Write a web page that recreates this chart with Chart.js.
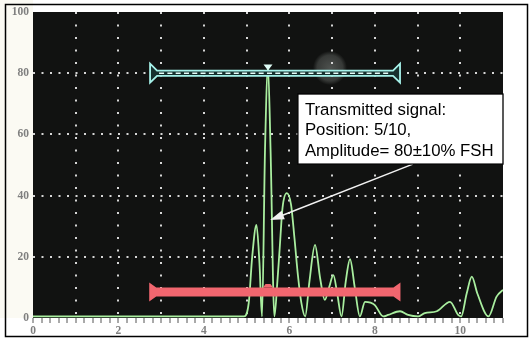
<!DOCTYPE html>
<html>
<head>
<meta charset="utf-8">
<script src="https://cdn.jsdelivr.net/npm/chart.js@4.4.0/dist/chart.umd.min.js"></script>
<style>
  html, body { margin: 0; padding: 0; background: #fff; }
  #wrap { width: 531px; height: 340px; }
</style>
</head>
<body>
<div id="wrap"><canvas id="scope" width="531" height="340"></canvas></div>
<script>
// A-scan trace (x in divisions, y in % FSH)
const signalX = [0, 4.94, 5.05, 5.13, 5.23, 5.3, 5.36, 5.43, 5.5, 5.56, 5.65, 5.72, 5.77, 5.84, 5.94, 6.04, 6.12, 6.2, 6.28, 6.37,
  6.47, 6.6, 6.72, 6.83, 6.93, 7.03, 7.12, 7.22, 7.32, 7.42, 7.53, 7.65, 7.77, 7.9, 8.0, 8.2, 8.31, 8.59, 8.78, 9.01,
  9.17, 9.45, 9.76, 9.95, 10.02, 10.15, 10.27, 10.4, 10.66, 10.85, 11];
const signalY = [0.5, 0.5, 5, 20, 30.4, 18, 0.5, 55, 82, 55, 0.5, 12, 22, 36, 40.8, 37, 26, 14, 5, 0.5,
  12, 23.9, 13, 5.9, 10, 14, 8, 0.5, 12, 19.2, 10, 0.5, 5.3, 5, 4.2, 0.5, 1, 2.2, 1, 0.5,
  1.6, 2.2, 5.3, 1, 0.5, 8, 13.5, 8, 0.5, 7, 9.2];

const yTicks = [0, 20, 40, 60, 80, 100];
const xLabels = [0, 2, 4, 6, 8, 10];

// gates: [upper (cyan), lower (red)]
const gateLevel = [80, 8.5];
const gateFrom = [2.74, 2.72];
const gateTo = [8.59, 8.6];
const gateMark = [5.5, 5.5];

const calloutLines = ['Transmitted signal:', 'Position: 5/10,', 'Amplitude= 80±10% FSH'];

const isInt = v => Math.abs(v - Math.round(v)) < 1e-6;

function drawGate(ctx, xs, ys, i, cyan) {
  const x0 = xs.getPixelForValue(gateFrom[i]);
  const x1 = xs.getPixelForValue(gateTo[i]);
  const y = ys.getPixelForValue(gateLevel[i]);
  const xm = xs.getPixelForValue(gateMark[i]);
  const h = cyan ? 2.6 : 4.5;   // half height of bar
  const capH = 9.5, flare = 7;
  ctx.save();
  ctx.beginPath();
  ctx.moveTo(x0, y - capH);
  ctx.lineTo(x0 + flare, y - h);
  ctx.lineTo(x1 - flare, y - h);
  ctx.lineTo(x1, y - capH);
  ctx.lineTo(x1, y + capH);
  ctx.lineTo(x1 - flare, y + h);
  ctx.lineTo(x0 + flare, y + h);
  ctx.lineTo(x0, y + capH);
  ctx.closePath();
  if (cyan) {
    ctx.fillStyle = '#16302e';
    ctx.fill();
    ctx.strokeStyle = '#a6f2ea';
    ctx.lineWidth = 1.8;
    ctx.stroke();
    ctx.beginPath();
    ctx.setLineDash([5, 3.3]);
    ctx.moveTo(x0 + flare + 2, y);
    ctx.lineTo(x1 - flare - 2, y);
    ctx.strokeStyle = '#e8fffb';
    ctx.lineWidth = 1.4;
    ctx.stroke();
    ctx.setLineDash([]);
    ctx.beginPath();
    ctx.moveTo(xm - 4.5, y - h - 6);
    ctx.lineTo(xm + 4.5, y - h - 6);
    ctx.lineTo(xm, y - h);
    ctx.closePath();
    ctx.fillStyle = '#dffcf6';
    ctx.fill();
  } else {
    ctx.fillStyle = '#f1666f';
    ctx.fill();
    ctx.beginPath();
    ctx.moveTo(xm - 5, y - h);
    ctx.lineTo(xm - 2.5, y - h - 3.5);
    ctx.lineTo(xm + 2.5, y - h - 3.5);
    ctx.lineTo(xm + 5, y - h);
    ctx.closePath();
    ctx.fill();
  }
  ctx.restore();
}

const scopePlugin = {
  id: 'scope',
  beforeDraw(chart) {
    const { ctx, chartArea: a } = chart;
    const xs = chart.scales.x, ys = chart.scales.y;
    ctx.save();
    ctx.fillStyle = '#ffffff';
    ctx.fillRect(0, 0, chart.width, chart.height);
    ctx.fillStyle = '#fbfaf3';
    ctx.fillRect(0, 0, a.left, a.bottom);
    ctx.fillStyle = '#111211';
    ctx.fillRect(a.left, a.top, a.right - a.left, a.bottom - a.top);
    // screen glare
    const gx = xs.getPixelForValue(6.95), gy = ys.getPixelForValue(81.7);
    const g = ctx.createRadialGradient(gx, gy, 0, gx, gy, 17);
    g.addColorStop(0, 'rgba(190,198,192,0.35)');
    g.addColorStop(0.75, 'rgba(190,198,192,0.22)');
    g.addColorStop(1, 'rgba(190,198,192,0)');
    ctx.fillStyle = g;
    ctx.fillRect(gx - 18, gy - 18, 36, 36);
    ctx.restore();
  },
  afterDatasetsDraw(chart) {
    const { ctx } = chart;
    const xs = chart.scales.x, ys = chart.scales.y;
    drawGate(ctx, xs, ys, 1, false);
    drawGate(ctx, xs, ys, 0, true);

    // arrow from callout to the main echo
    const tx = xs.getPixelForValue(5.55), ty = ys.getPixelForValue(32);
    const sx = xs.getPixelForValue(8.89), sy = ys.getPixelForValue(50.3);
    const ang = Math.atan2(ty - sy, tx - sx);
    ctx.save();
    ctx.strokeStyle = '#f2f2f2';
    ctx.fillStyle = '#f2f2f2';
    ctx.lineWidth = 1.5;
    ctx.beginPath();
    ctx.moveTo(sx, sy);
    ctx.lineTo(tx - 10 * Math.cos(ang), ty - 10 * Math.sin(ang));
    ctx.stroke();
    ctx.beginPath();
    ctx.moveTo(tx, ty);
    ctx.lineTo(tx - 14 * Math.cos(ang) + 4.5 * Math.sin(ang), ty - 14 * Math.sin(ang) - 4.5 * Math.cos(ang));
    ctx.lineTo(tx - 14 * Math.cos(ang) - 4.5 * Math.sin(ang), ty - 14 * Math.sin(ang) + 4.5 * Math.cos(ang));
    ctx.closePath();
    ctx.fill();

    // callout box
    const bx0 = xs.getPixelForValue(6.2), by0 = ys.getPixelForValue(73.2);
    const bx1 = xs.getPixelForValue(11), by1 = ys.getPixelForValue(50.3);
    ctx.fillStyle = '#ffffff';
    ctx.fillRect(bx0, by0, bx1 - bx0, by1 - by0);
    ctx.strokeStyle = '#000';
    ctx.lineWidth = 1.3;
    ctx.strokeRect(bx0, by0, bx1 - bx0, by1 - by0);
    ctx.fillStyle = '#000';
    ctx.font = '16.8px "Liberation Sans", Arial, sans-serif';
    ctx.textBaseline = 'middle';
    calloutLines.forEach((t, i) => ctx.fillText(t, bx0 + 7, by0 + 16 + i * 20.6));
    ctx.restore();
  },
  afterDraw(chart) {
    const { ctx } = chart;
    ctx.save();
    ctx.strokeStyle = '#000';
    ctx.lineWidth = 1.5;
    ctx.strokeRect(5.5, 4.5, 522, 332);
    ctx.restore();
  }
};

new Chart(document.getElementById('scope'), {
  type: 'line',
  data: {
    datasets: [{
      data: signalX.map((x, i) => ({ x, y: signalY[i] })),
      borderColor: '#a9ee9f',
      borderWidth: 1.8,
      pointRadius: 0,
      cubicInterpolationMode: 'monotone',
      fill: false,
    }],
  },
  options: {
    responsive: false,
    animation: false,
    layout: { padding: { top: 12, right: 28, left: 0, bottom: 0 } },
    plugins: {
      legend: { display: false },
      tooltip: { enabled: false },
    },
    scales: {
      x: {
        type: 'linear',
        min: 0,
        max: 11,
        afterFit: s => { s.height = 22; },
        border: { display: false, dash: [2, 10.5] },
        grid: {
          color: c => (isInt(c.tick.value) && c.tick.value > 0 && c.tick.value < 11) ? '#d6d6d6' : 'rgba(0,0,0,0)',
          lineWidth: 2,
          tickColor: '#555',
          tickWidth: 1,
          tickLength: 5,
          tickBorderDash: [20, 0],
        },
        ticks: {
          stepSize: 0.2,
          autoSkip: false,
          maxRotation: 0,
          padding: 1,
          color: '#7f7f7f',
          font: { family: '"Liberation Serif", serif', size: 11.5, weight: 'bold' },
          callback: v => (isInt(v) && xLabels.includes(Math.round(v))) ? String(Math.round(v)) : '',
        },
      },
      y: {
        min: 0,
        max: 100,
        afterFit: s => { s.width = 33; },
        afterBuildTicks: s => { s.ticks = yTicks.map(v => ({ value: v })); },
        border: { display: false, dash: [2, 6.5] },
        grid: {
          color: c => (c.tick.value > 0 && c.tick.value < 100) ? '#d6d6d6' : 'rgba(0,0,0,0)',
          lineWidth: 2,
          drawTicks: false,
        },
        ticks: {
          padding: 4,
          color: '#7f7f7f',
          font: { family: '"Liberation Serif", serif', size: 11.5, weight: 'bold' },
        },
      },
    },
  },
  plugins: [scopePlugin],
});
</script>
</body>
</html>
